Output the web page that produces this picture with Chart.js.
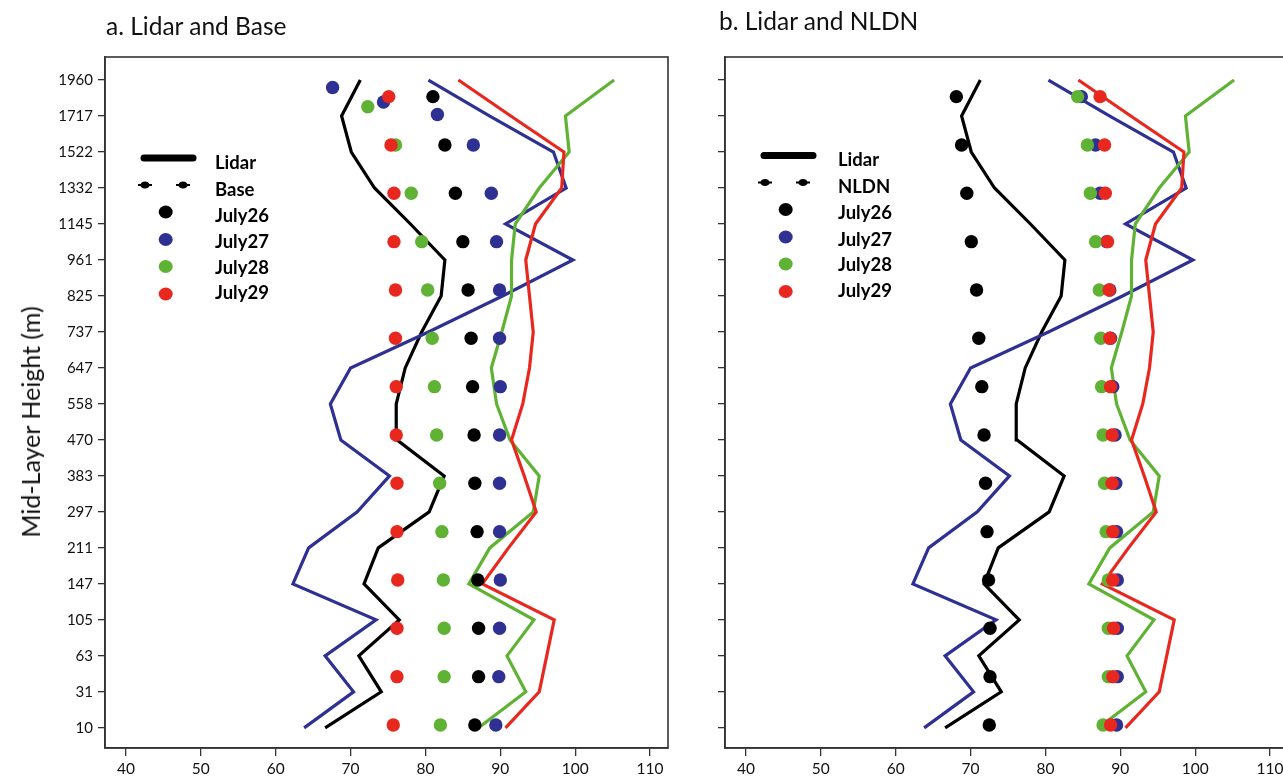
<!DOCTYPE html>
<html><head><meta charset="utf-8">
<script src="https://cdn.jsdelivr.net/npm/chart.js@4.4.0/dist/chart.umd.min.js"></script>
<style>
html,body{margin:0;padding:0;background:#fff;width:1283px;height:783px;overflow:hidden;}
#wrap{position:relative;width:1283px;height:783px;overflow:hidden;background:#fff;}
canvas{position:absolute;top:0;}
#cA{left:0;}
#cB{left:690px;}
.ttl{position:absolute;font-family:Lato,sans-serif;font-size:24.5px;color:#111;white-space:nowrap;line-height:1.2;}
#yt{position:absolute;left:30px;top:422px;transform:translate(-50%,-50%) rotate(-90deg);font-family:Lato,sans-serif;font-size:25px;color:#111;white-space:nowrap;}
</style></head>
<body><div id="wrap">
<canvas id="cA" width="690" height="783"></canvas>
<canvas id="cB" width="640" height="783"></canvas>
<div class="ttl" style="left:106px;top:11px">a. Lidar and Base</div>
<div class="ttl" style="left:719px;top:6px">b. Lidar and NLDN</div>
<div id="yt">Mid-Layer Height (m)</div>
</div>
<script>
// ---------- data ----------
const heightLabels = ['10','31','63','105','147','211','297','383','470','558','647','737','825','961','1145','1332','1522','1717','1960'];
const xTicks = [40,50,60,70,80,90,100,110];

// Lidar profiles (one value per height level, bottom -> top)
const lidarJuly26 = [66.6,74.1,71.1,76.5,71.8,73.7,80.5,82.5,76.2,76.1,77.3,79.5,82.1,82.6,78.0,73.2,70.1,68.8,71.3];
const lidarJuly27 = [63.8,70.4,66.6,73.4,62.3,64.4,70.9,75.2,68.7,67.3,70.0,80.4,90.3,99.7,90.7,98.8,97.1,88.6,80.4];
const lidarJuly28 = [87.1,93.4,90.9,94.5,85.8,88.6,94.4,95.2,91.3,89.5,88.8,90.2,91.5,91.5,92.0,95.2,99.2,98.7,105.2];
const lidarJuly29 = [90.7,95.2,96.2,97.2,87.6,91.1,94.8,93.2,91.5,93.0,93.9,94.4,93.9,93.4,94.7,98.2,98.5,91.4,84.4];

// model layer rows for the dot series (bottom -> top)
const dotRows = [0,1,2,3,4,5,6,7,8,9,10,11,12,13];
const base27Rows = [0,1,2,3,4,5,6,7,8,9,10,11,12,12.89,13.19,12.63];
const base28Rows = [0,1,2,3,4,5,6,7,8,9,10,11,12,12.79];

// Base values
const baseJuly26 = [86.6,87.1,87.1,87.0,86.9,86.6,86.5,86.3,86.1,85.7,85.0,84.0,82.6,81.0];
const baseJuly27 = [89.4,89.8,89.9,90.0,89.9,89.9,89.9,90.0,89.9,89.9,89.5,88.8,86.4,74.4,67.6,81.6];
const baseJuly28 = [82.0,82.5,82.5,82.4,82.2,81.9,81.5,81.2,80.9,80.3,79.5,78.1,76.0,72.3];
const baseJuly29 = [75.7,76.2,76.2,76.3,76.2,76.2,76.1,76.1,76.0,76.0,75.8,75.8,75.4,75.1];

// NLDN values
const nldnJuly26 = [72.5,72.6,72.6,72.4,72.2,72.0,71.8,71.5,71.1,70.8,70.1,69.5,68.8,68.1];
const nldnJuly27 = [89.5,89.6,89.6,89.6,89.5,89.4,89.3,89.0,88.7,88.6,88.2,87.3,86.7,84.8];
const nldnJuly28 = [87.7,88.4,88.4,88.4,88.1,87.9,87.7,87.5,87.4,87.2,86.7,86.0,85.6,84.3];
const nldnJuly29 = [88.7,89.0,89.1,89.0,89.0,88.9,88.9,88.7,88.6,88.5,88.3,88.0,87.9,87.3];

const dayNames = ['July26','July27','July28','July29'];
const dayColors = ['#000000','#2e3192','#5fb233','#e8281e'];

// ---------- helpers ----------
Chart.defaults.font.family = 'Lato, sans-serif';
Chart.defaults.color = '#222';

function lineDs(vals, i){
  return {type:'scatter', label:'Lidar '+dayNames[i], data: vals.map((x,k)=>({x:x,y:k})),
    showLine:true, borderColor:dayColors[i], backgroundColor:dayColors[i], borderWidth:3.2,
    pointRadius:0, yAxisID:'y', order:14-i, tension:0};
}
function dotDs(vals, rows, i, name){
  return {type:'scatter', label:name+' '+dayNames[i], data: vals.map((x,k)=>({x:x,y:rows[k]})),
    showLine:false, borderWidth:0, backgroundColor:dayColors[i], borderColor:dayColors[i],
    pointRadius:6.7, pointHoverRadius:6.7, yAxisID:'yb', order:4-i};
}

const boxPlugin = {
  id:'box',
  afterDraw(chart){
    const {ctx, chartArea:a} = chart;
    ctx.save(); ctx.strokeStyle='#333'; ctx.lineWidth=1.6;
    ctx.strokeRect(a.left, a.top, a.right-a.left, a.bottom-a.top);
    ctx.restore();
  }
};

const legendPlugin = {
  id:'customLegend',
  afterDraw(chart, args, opts){
    const {ctx, chartArea:a} = chart;
    const dy = opts.shift || 0;
    const mk = [101,128,155,182.5,209.5,237].map(v=>a.top+v+dy);
    const tk = [106,133,159,185.5,211,236.5].map(v=>a.top+v+dy);
    const labels = ['Lidar', opts.second].concat(dayNames);
    ctx.save();
    ctx.strokeStyle='#000'; ctx.lineWidth=7; ctx.lineCap='round';
    ctx.beginPath(); ctx.moveTo(a.left+39, mk[0]); ctx.lineTo(a.left+88, mk[0]); ctx.stroke();
    ctx.fillStyle='#000'; ctx.lineWidth=2; ctx.lineCap='butt';
    [40,78].forEach(dx=>{
      ctx.beginPath(); ctx.ellipse(a.left+dx, mk[1], 4.6, 3.6, 0, 0, Math.PI*2); ctx.fill();
      ctx.beginPath(); ctx.moveTo(a.left+dx-7, mk[1]); ctx.lineTo(a.left+dx+7, mk[1]); ctx.stroke();
    });
    for(let i=0;i<4;i++){
      ctx.fillStyle=dayColors[i];
      ctx.beginPath(); ctx.ellipse(a.left+60.7, mk[i+2], 7, 6.5, 0, 0, Math.PI*2); ctx.fill();
    }
    ctx.fillStyle='#000'; ctx.font='bold 18.5px Lato, sans-serif'; ctx.textBaseline='middle'; ctx.textAlign='left';
    labels.forEach((t,i)=>ctx.fillText(t, a.left+opts.textX, tk[i]));
    ctx.restore();
  }
};

function makeChart(id, dots, secondName, showYLabels, yWidth, padRight, legendShift, textX){
  const datasets = [
    lineDs(lidarJuly26,0), lineDs(lidarJuly27,1), lineDs(lidarJuly28,2), lineDs(lidarJuly29,3)
  ];
  dots.forEach((d,i)=>datasets.push(dotDs(d.vals, d.rows, i, secondName)));
  return new Chart(document.getElementById(id), {
    type:'scatter',
    data:{datasets},
    options:{
      responsive:false, animation:false, events:[],
      layout:{padding:{left:0, top:57, right:padRight, bottom:0}, autoPadding:false},
      plugins:{legend:{display:false}, tooltip:{enabled:false},
        customLegend:{second:secondName, shift:legendShift, textX:textX}},
      scales:{
        x:{type:'linear', min:37.2, max:112.4,
          afterBuildTicks:s=>{ s.ticks = xTicks.map(v=>({value:v})); },
          afterFit:s=>{ s.height = 35; },
          ticks:{font:{size:15.5}, color:'#111', padding:4, maxRotation:0, autoSkip:false},
          grid:{drawOnChartArea:false, drawTicks:true, tickLength:8, color:'#333', lineWidth:1.3},
          border:{display:true, color:'#333', width:1.6}},
        y:{type:'linear', position:'left', min:-0.56, max:18.64,
          afterBuildTicks:s=>{ s.ticks = heightLabels.map((l,i)=>({value:i})); },
          afterFit:s=>{ s.width = yWidth; },
          ticks:{display:showYLabels, font:{size:15}, color:'#111', padding:5, autoSkip:false,
            callback:v=>heightLabels[v]},
          grid:{drawOnChartArea:false, drawTicks:true, tickLength:7, color:'#333', lineWidth:1.3},
          border:{display:true, color:'#333', width:1.6}},
        yb:{type:'linear', display:false, min:-0.476, max:13.82}
      }
    },
    plugins:[boxPlugin, legendPlugin]
  });
}

makeChart('cA', [
  {vals:baseJuly26, rows:dotRows},
  {vals:baseJuly27, rows:base27Rows},
  {vals:baseJuly28, rows:base28Rows},
  {vals:baseJuly29, rows:dotRows}
], 'Base', true, 105, 22, 0, 110);

makeChart('cB', [
  {vals:nldnJuly26, rows:dotRows},
  {vals:nldnJuly27, rows:dotRows},
  {vals:nldnJuly28, rows:dotRows},
  {vals:nldnJuly29, rows:dotRows}
], 'NLDN', false, 35, 42, -2.5, 113);
</script>
</body></html>
